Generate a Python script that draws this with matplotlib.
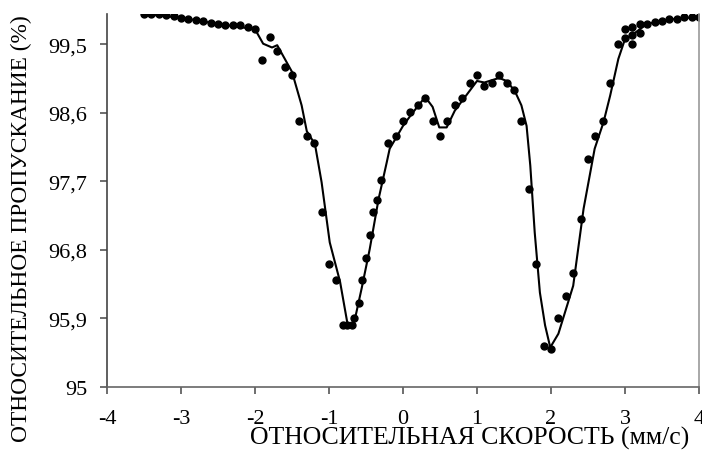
import matplotlib
matplotlib.use("Agg")
import matplotlib.pyplot as plt

plt.rcParams['font.family'] = ['Liberation Serif', 'DejaVu Serif']

# measured points: velocity (mm/s) and relative transmission (%)
velocity = [-3.5, -3.4, -3.3, -3.2, -3.1, -3.0, -2.9, -2.8, -2.7, -2.6,
            -2.5, -2.4, -2.3, -2.2, -2.1, -2.0, -1.9, -1.8, -1.7, -1.6,
            -1.5, -1.4, -1.3, -1.2, -1.1, -1.0, -0.9, -0.81, -0.76, -0.69,
            -0.66, -0.6, -0.56, -0.5, -0.45, -0.4, -0.35, -0.3, -0.2, -0.1,
            0.0, 0.1, 0.2, 0.3, 0.4, 0.5, 0.6, 0.7, 0.8, 0.9,
            1.0, 1.1, 1.2, 1.3, 1.4, 1.5, 1.6, 1.7, 1.8, 1.9,
            2.0, 2.1, 2.2, 2.3, 2.4, 2.5, 2.6, 2.7, 2.8, 2.9,
            3.0, 3.0, 3.1, 3.1, 3.1, 3.2, 3.2, 3.3, 3.4, 3.5,
            3.6, 3.7, 3.8, 3.9, 4.0]
transmission = [99.90, 99.90, 99.90, 99.89, 99.88, 99.85, 99.84, 99.82, 99.81, 99.78,
                99.77, 99.76, 99.76, 99.75, 99.73, 99.70, 99.30, 99.60, 99.41, 99.20,
                99.10, 98.50, 98.30, 98.20, 97.30, 96.61, 96.41, 95.81, 95.81, 95.81,
                95.90, 96.10, 96.41, 96.70, 97.00, 97.30, 97.45, 97.72, 98.21, 98.30,
                98.50, 98.61, 98.71, 98.80, 98.50, 98.30, 98.50, 98.71, 98.80, 99.00,
                99.10, 98.95, 99.00, 99.10, 99.00, 98.90, 98.50, 97.60, 96.61, 95.54,
                95.50, 95.91, 96.20, 96.50, 97.21, 98.00, 98.30, 98.50, 99.00, 99.50,
                99.70, 99.59, 99.73, 99.63, 99.50, 99.77, 99.65, 99.77, 99.79, 99.81,
                99.83, 99.84, 99.86, 99.86, 99.86]

# fitted curve
fit_v = [-3.5, -3.0, -2.5, -2.0, -1.89, -1.77, -1.70, -1.50, -1.37, -1.30,
         -1.19, -1.10, -0.99, -0.85, -0.75, -0.67, -0.63, -0.56, -0.45, -0.33,
         -0.22, -0.18, 0.0, 0.12, 0.30, 0.40, 0.49, 0.59, 0.70, 1.0,
         1.10, 1.30, 1.40, 1.51, 1.60, 1.67, 1.72, 1.78, 1.85, 1.92,
         1.99, 2.10, 2.30, 2.44, 2.59, 2.71, 2.80, 2.91, 3.0, 3.09,
         3.20, 3.30, 3.50, 3.70, 4.0]
fit_t = [99.90, 99.85, 99.77, 99.70, 99.51, 99.46, 99.49, 99.14, 98.70, 98.36,
         98.19, 97.69, 96.90, 96.38, 95.83, 95.81, 95.98, 96.29, 96.81, 97.47,
         97.95, 98.13, 98.43, 98.59, 98.81, 98.68, 98.41, 98.41, 98.63, 99.02,
         99.00, 99.06, 99.02, 98.89, 98.70, 98.43, 97.91, 97.03, 96.24, 95.81,
         95.52, 95.70, 96.33, 97.34, 98.13, 98.48, 98.83, 99.31, 99.57, 99.62,
         99.70, 99.77, 99.81, 99.84, 99.86]

yticks = [95, 95.9, 96.8, 97.7, 98.6, 99.5]
ytick_labels = ["95", "95,9", "96,8", "97,7", "98,6", "99,5"]
xticks = [-4, -3, -2, -1, 0, 1, 2, 3, 4]
xtick_labels = ["-4", "-3", "-2", "-1", "0", "1", "2", "3", "4"]

fig = plt.figure(figsize=(7.02, 4.52), dpi=100)
ax = fig.add_axes([107 / 702, 64 / 452, 592 / 702, 373 / 452])

ax.plot(fit_v, fit_t, color="black", linewidth=1.5)
ax.plot(velocity, transmission, "o", color="black", markersize=5)

ax.set_xlim(-4, 4)
ax.set_ylim(95, 99.9)
ax.set_xticks(xticks)
ax.set_xticklabels(xtick_labels)
ax.set_yticks(yticks)
ax.set_yticklabels(ytick_labels)
ax.tick_params(labelsize=16, length=5, width=1.2, color="#555555")
ax.tick_params(axis="x", pad=11)
ax.tick_params(axis="y", pad=9)

ax.spines["top"].set_visible(False)
ax.spines["left"].set_color("#444444")
ax.spines["bottom"].set_color("#666666")
ax.spines["right"].set_color("#999999")
for s in ["left", "bottom", "right"]:
    ax.spines[s].set_linewidth(1.2)

fig.text(470 / 702, 1 - 438 / 452, "ОТНОСИТЕЛЬНАЯ СКОРОСТЬ (мм/с)",
         ha="center", va="center", fontsize=18.5)
fig.text(21 / 702, 1 - 229 / 452, "ОТНОСИТЕЛЬНОЕ ПРОПУСКАНИЕ (%)",
         ha="center", va="center", rotation=90, fontsize=16.8)

fig.savefig("out.png", dpi=100)
